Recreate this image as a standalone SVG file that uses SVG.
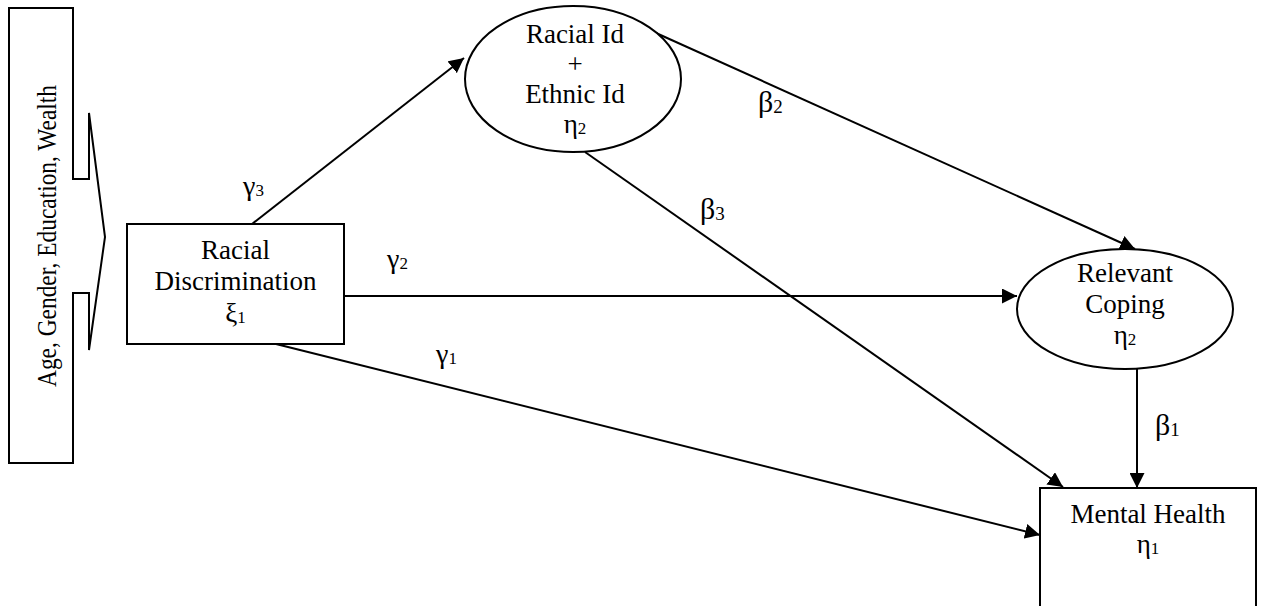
<svg xmlns="http://www.w3.org/2000/svg" width="1262" height="606" viewBox="0 0 1262 606" font-family="'Liberation Serif', 'Times New Roman', 'DejaVu Serif', serif">
<style>
.n{fill:#fff;stroke:#000;stroke-width:2}
.t{font-family:'Liberation Serif','Times New Roman','DejaVu Serif',serif;font-size:27px;fill:#000;text-anchor:middle}
.r{font-size:28px}
.l{font-family:'Liberation Serif','Times New Roman','DejaVu Serif',serif;font-size:28px;fill:#000}
.b{font-size:30px}
.sub{font-size:17px}
.b .sub{font-size:19px}
.c{fill:none;stroke:#000;stroke-width:2}
</style>
<defs>
<marker id="ah" markerUnits="userSpaceOnUse" markerWidth="16" markerHeight="15" refX="15" refY="7.5" orient="auto">
<path d="M0,0 L15,7.5 L0,15 z" fill="#000"/>
</marker>
</defs>
<rect width="1262" height="606" fill="#fff"/>
<g id="controls">
<polygon class="n" points="9,8 73,8 73,179 89,179 89,113 105,237 89,350 89,293 73,293 73,463 9,463"/>
<text class="t r" font-family="Liberation Serif" transform="translate(56,236) rotate(-90)" textLength="302" lengthAdjust="spacingAndGlyphs">Age, Gender, Education, Wealth</text>
</g>
<g id="connectors">
<line class="c" x1="252" y1="224" x2="464" y2="58" marker-end="url(#ah)"/>
<line class="c" x1="344" y1="296" x2="1017" y2="296" marker-end="url(#ah)"/>
<line class="c" x1="276" y1="344" x2="1040" y2="535" marker-end="url(#ah)"/>
<line class="c" x1="656" y1="33" x2="1135" y2="249" marker-end="url(#ah)"/>
<line class="c" x1="585" y1="152" x2="1063" y2="487" marker-end="url(#ah)"/>
<line class="c" x1="1137" y1="369" x2="1137" y2="488" marker-end="url(#ah)"/>
<text class="l" font-family="Liberation Serif" x="243" y="195">γ<tspan class="sub" dy="1">3</tspan></text>
<text class="l" font-family="Liberation Serif" x="387" y="268">γ<tspan class="sub" dy="1">2</tspan></text>
<text class="l" font-family="Liberation Serif" x="436" y="363">γ<tspan class="sub" dy="1">1</tspan></text>
<text class="l b" font-family="Liberation Serif" x="758" y="112">β<tspan class="sub" dy="1">2</tspan></text>
<text class="l b" font-family="Liberation Serif" x="700" y="219">β<tspan class="sub" dy="1">3</tspan></text>
<text class="l b" font-family="Liberation Serif" x="1155" y="435">β<tspan class="sub" dy="1">1</tspan></text>
</g>
<g id="racial-discrimination">
<rect class="n" x="127" y="224" width="217" height="120"/>
<text class="t" font-family="Liberation Serif" x="235.5" y="259">Racial</text>
<text class="t" font-family="Liberation Serif" x="235.5" y="290">Discrimination</text>
<text class="t" font-family="Liberation Serif" x="235.5" y="322">ξ<tspan class="sub" dy="1">1</tspan></text>
</g>
<g id="racial-ethnic-id">
<ellipse class="n" cx="573" cy="79" rx="108" ry="73"/>
<text class="t" font-family="Liberation Serif" x="575" y="43">Racial Id</text>
<text class="t" font-family="Liberation Serif" x="575" y="73">+</text>
<text class="t" font-family="Liberation Serif" x="575" y="103">Ethnic Id</text>
<text class="t" font-family="Liberation Serif" x="575" y="133">η<tspan class="sub" dy="1">2</tspan></text>
</g>
<g id="relevant-coping">
<ellipse class="n" cx="1125" cy="309" rx="108" ry="60"/>
<text class="t" font-family="Liberation Serif" x="1125" y="282">Relevant</text>
<text class="t" font-family="Liberation Serif" x="1125" y="313">Coping</text>
<text class="t" font-family="Liberation Serif" x="1125" y="344">η<tspan class="sub" dy="1">2</tspan></text>
</g>
<g id="mental-health">
<rect class="n" x="1040" y="488" width="216" height="140"/>
<text class="t" font-family="Liberation Serif" x="1148" y="523">Mental Health</text>
<text class="t" font-family="Liberation Serif" x="1148" y="553">η<tspan class="sub" dy="1">1</tspan></text>
</g>
</svg>
